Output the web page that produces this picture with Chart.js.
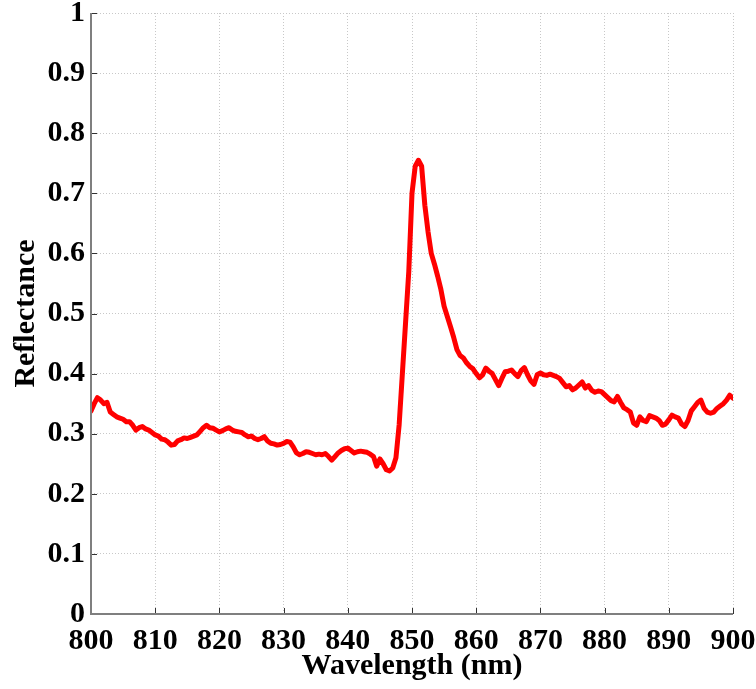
<!DOCTYPE html>
<html>
<head>
<meta charset="utf-8">
<script src="https://cdn.jsdelivr.net/npm/chart.js@4/dist/chart.umd.min.js"></script>
<style>
  html, body { margin: 0; padding: 0; background: #fff; }
  #wrap { width: 756px; height: 689px; }
</style>
</head>
<body>
<div id="wrap"><canvas id="c" width="756" height="689"></canvas></div>
<script>
// Spectrum sampling: 800–900 nm every 0.5 nm
const waveStart = 800;
const waveStep = 0.5;

// Measured reflectance, one value per sample
const reflectance = [
  0.338, 0.350, 0.360, 0.356, 0.350, 0.352, 0.336, 0.332, 0.328, 0.326,
  0.324, 0.320, 0.320, 0.314, 0.306, 0.310, 0.312, 0.308, 0.306, 0.302,
  0.298, 0.296, 0.291, 0.290, 0.286, 0.281, 0.282, 0.288, 0.290, 0.293,
  0.292, 0.294, 0.296, 0.298, 0.304, 0.310, 0.314, 0.310, 0.309, 0.306,
  0.303, 0.305, 0.308, 0.310, 0.306, 0.304, 0.303, 0.302, 0.298, 0.295,
  0.296, 0.292, 0.290, 0.292, 0.295, 0.288, 0.284, 0.283, 0.281, 0.282,
  0.284, 0.287, 0.286, 0.278, 0.268, 0.265, 0.267, 0.270, 0.269, 0.267,
  0.265, 0.266, 0.265, 0.267, 0.262, 0.256, 0.262, 0.268, 0.272, 0.275,
  0.276, 0.272, 0.268, 0.270, 0.271, 0.270, 0.269, 0.266, 0.262, 0.246,
  0.258, 0.250, 0.240, 0.238, 0.243, 0.260, 0.315, 0.400, 0.485, 0.570,
  0.700, 0.745, 0.755, 0.745, 0.680, 0.636, 0.600, 0.582, 0.562, 0.540,
  0.512, 0.495, 0.478, 0.460, 0.440, 0.430, 0.426, 0.418, 0.412, 0.408,
  0.400, 0.393, 0.398, 0.409, 0.404, 0.400, 0.390, 0.380, 0.392, 0.403,
  0.404, 0.406, 0.400, 0.395, 0.405, 0.410, 0.398, 0.388, 0.382, 0.398,
  0.401, 0.398, 0.397, 0.399, 0.397, 0.395, 0.392, 0.385, 0.378, 0.380,
  0.373, 0.376, 0.381, 0.386, 0.376, 0.380, 0.372, 0.369, 0.371, 0.370,
  0.365, 0.360, 0.355, 0.353, 0.362, 0.352, 0.343, 0.340, 0.336, 0.318,
  0.314, 0.328, 0.322, 0.320, 0.330, 0.328, 0.326, 0.322, 0.314, 0.316,
  0.323, 0.331, 0.328, 0.326, 0.316, 0.312, 0.322, 0.338, 0.345, 0.352,
  0.356, 0.342, 0.336, 0.334, 0.336, 0.342, 0.346, 0.350, 0.356, 0.364,
  0.359
];

// Axis ticks
const xTicks = [800, 810, 820, 830, 840, 850, 860, 870, 880, 890, 900];
const yTicks = [0, 0.1, 0.2, 0.3, 0.4, 0.5, 0.6, 0.7, 0.8, 0.9, 1];

const points = reflectance.map((v, i) => ({ x: waveStart + i * waveStep, y: v }));

const serif = '"Liberation Serif", "Times New Roman", serif';

// Short tick marks pointing into the plot area, plus the two axis lines
const innerTicks = {
  id: 'innerTicks',
  afterDraw(chart) {
    const { ctx, chartArea: a, scales } = chart;
    ctx.save();
    ctx.strokeStyle = '#333';
    ctx.lineWidth = 1;
    ctx.beginPath();
    xTicks.forEach(t => {
      const px = Math.round(scales.x.getPixelForValue(t)) + 0.5;
      ctx.moveTo(px, a.bottom);
      ctx.lineTo(px, a.bottom - 6);
    });
    yTicks.forEach(t => {
      const py = Math.round(scales.y.getPixelForValue(t)) + 0.5;
      ctx.moveTo(a.left, py);
      ctx.lineTo(a.left + 6, py);
    });
    ctx.stroke();
    ctx.strokeStyle = '#7f7f7f';
    ctx.lineWidth = 2;
    ctx.beginPath();
    ctx.moveTo(a.left, a.top);
    ctx.lineTo(a.left, a.bottom);
    ctx.lineTo(a.right, a.bottom);
    ctx.stroke();
    ctx.restore();
  }
};

new Chart(document.getElementById('c'), {
  type: 'line',
  data: {
    datasets: [{
      data: points,
      borderColor: '#ff0000',
      borderWidth: 5,
      pointRadius: 0,
      tension: 0,
      fill: false,
      borderJoinStyle: 'round',
      borderCapStyle: 'round'
    }]
  },
  options: {
    responsive: false,
    animation: false,
    layout: { padding: { top: 13, right: 23, left: 0, bottom: 0 } },
    plugins: { legend: { display: false }, tooltip: { enabled: false } },
    scales: {
      x: {
        type: 'linear',
        min: 800,
        max: 900,
        afterBuildTicks: s => { s.ticks = xTicks.map(v => ({ value: v })); },
        afterFit: s => { s.height = 75; s.paddingLeft = 0; s.paddingRight = 0; },
        grid: { color: '#c8c8c8', lineWidth: 1, drawTicks: false },
        border: { display: false, dash: [1, 2] },
        ticks: {
          color: '#000',
          padding: 9,
          maxRotation: 0,
          font: { family: serif, size: 30, weight: 'bold' },
          callback: v => String(v)
        },
        title: {
          display: true,
          text: 'Wavelength (nm)',
          color: '#000',
          padding: { top: 0, bottom: 5 },
          font: { family: serif, size: 30, weight: 'bold' }
        }
      },
      y: {
        min: 0,
        max: 1,
        afterBuildTicks: s => { s.ticks = yTicks.map(v => ({ value: v })); },
        afterFit: s => { s.width = 91; s.paddingTop = 0; s.paddingBottom = 0; },
        grid: { color: '#c8c8c8', lineWidth: 1, drawTicks: false },
        border: { display: false, dash: [1, 2] },
        ticks: {
          color: '#000',
          padding: 6,
          font: { family: serif, size: 30, weight: 'bold' },
          callback: v => String(Math.round(v * 10) / 10)
        },
        title: {
          display: true,
          text: 'Reflectance',
          color: '#000',
          padding: { top: 8, bottom: 0 },
          font: { family: serif, size: 30, weight: 'bold' }
        }
      }
    }
  },
  plugins: [innerTicks]
});
</script>
</body>
</html>
